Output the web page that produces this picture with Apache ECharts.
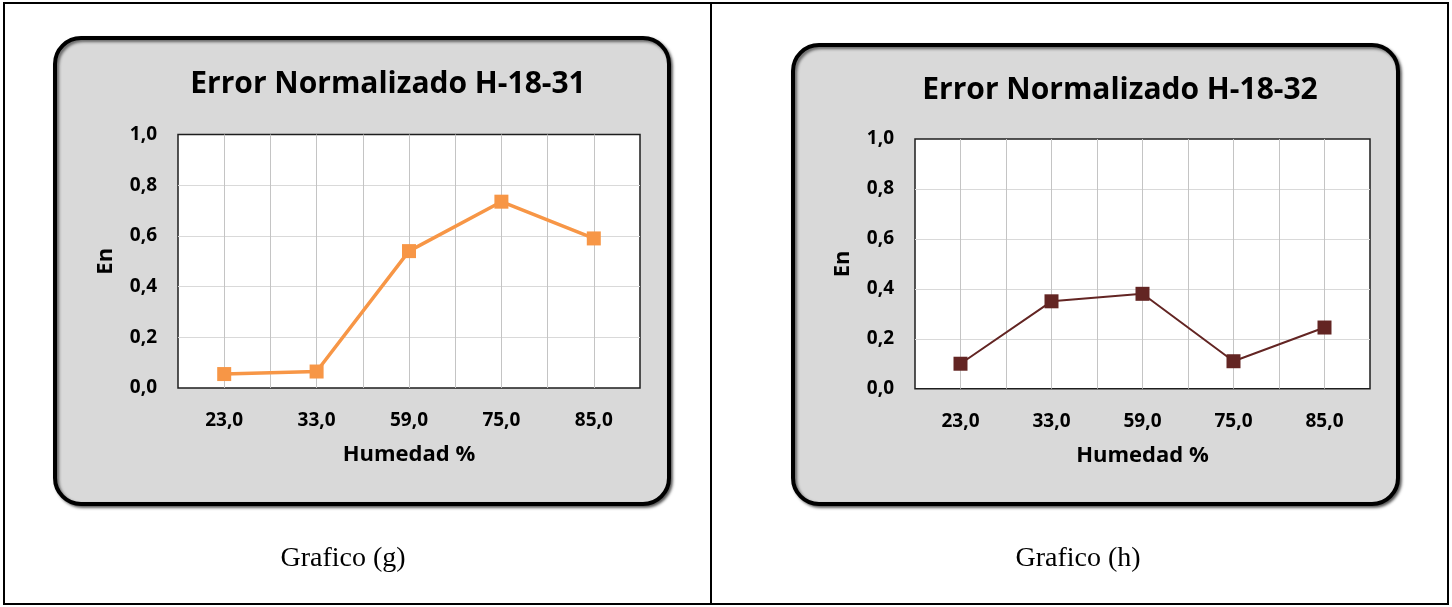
<!DOCTYPE html>
<html>
<head>
<meta charset="utf-8">
<script src="https://cdn.jsdelivr.net/npm/echarts@6/dist/echarts.min.js"></script>
<style>
  html, body { margin: 0; padding: 0; background: #ffffff; }
  #chart { width: 1452px; height: 607px; }
</style>
</head>
<body>
<div id="chart"></div>
<script>
// Humidity set points (category axis) and normalized error per instrument
const humidity = ['23,0', '33,0', '59,0', '75,0', '85,0'];
const enH1831 = [0.055, 0.065, 0.54, 0.735, 0.59];
const enH1832 = [0.10, 0.35, 0.38, 0.11, 0.245];
const yTickLabels = ['0,0', '0,2', '0,4', '0,6', '0,8', '1,0'];
const chartTitles = ['Error Normalizado H-18-31', 'Error Normalizado H-18-32'];
const captions = ['Grafico (g)', 'Grafico (h)'];
const xAxisName = 'Humedad %';
const yAxisName = 'En';

const SANS = '"Open Sans", "Noto Sans", sans-serif';
const SERIF = '"Liberation Serif", "DejaVu Serif", serif';

// Layout of the two side-by-side panels
const panels = [
  {
    values: enH1831, color: '#F79646', lineWidth: 3.5,
    card: { x: 55, y: 38, width: 614, height: 466 },
    grid: { left: 178, top: 134.5, width: 462, height: 253.5 },
    titlePos: [388, 84], captionPos: [343, 559]
  },
  {
    values: enH1832, color: '#632523', lineWidth: 2,
    card: { x: 793, y: 45, width: 605, height: 459 },
    grid: { left: 915, top: 139, width: 455, height: 249.7 },
    titlePos: [1120, 90], captionPos: [1078, 559]
  }
];

// Half-category slots: gridlines at every category centre and boundary
const halfSlots = Array.from({ length: humidity.length * 2 }, (_, i) => 'slot' + i);

const boldLabel = { fontFamily: SANS, fontWeight: 'bold', color: '#000000' };

const grids = [], xAxes = [], yAxes = [], series = [], graphics = [];

// Page frame: outer table border and the centre divider
graphics.push({
  type: 'rect', z: -20, silent: true,
  shape: { x: 4, y: 3, width: 1444, height: 601 },
  style: { fill: '#ffffff', stroke: '#000000', lineWidth: 2 }
});
graphics.push({
  type: 'line', z: -19, silent: true,
  shape: { x1: 711, y1: 3, x2: 711, y2: 604 },
  style: { stroke: '#000000', lineWidth: 2 }
});

panels.forEach((p, i) => {
  // Rounded grey chart card
  graphics.push({
    type: 'rect', z: -10, silent: true,
    shape: { x: p.card.x, y: p.card.y, width: p.card.width, height: p.card.height, r: 26 },
    style: {
      fill: '#d9d9d9', stroke: '#000000', lineWidth: 4,
      shadowBlur: 3, shadowOffsetX: 2, shadowOffsetY: 2, shadowColor: 'rgba(0,0,0,0.55)'
    }
  });
  // Chart title
  graphics.push({
    type: 'text', z: 5, silent: true,
    style: {
      x: p.titlePos[0], y: p.titlePos[1], text: chartTitles[i],
      font: 'bold 30px ' + SANS, fill: '#000000',
      align: 'center', verticalAlign: 'middle'
    }
  });
  // Caption below the card
  graphics.push({
    type: 'text', z: 5, silent: true,
    style: {
      x: p.captionPos[0], y: p.captionPos[1], text: captions[i],
      font: '28px ' + SERIF, fill: '#000000',
      align: 'center', verticalAlign: 'middle'
    }
  });

  grids.push({
    left: p.grid.left, top: p.grid.top, width: p.grid.width, height: p.grid.height,
    show: true, backgroundColor: '#ffffff', borderColor: '#1e1e1e', borderWidth: 1.5,
    containLabel: false
  });

  xAxes.push({
    gridIndex: i, type: 'category', data: humidity, boundaryGap: true,
    axisLine: { show: false }, axisTick: { show: false },
    axisLabel: Object.assign({ interval: 0, margin: 23, fontSize: 19 }, boldLabel),
    splitLine: { show: false },
    name: xAxisName, nameLocation: 'middle', nameGap: 56,
    nameTextStyle: Object.assign({ fontSize: 22 }, boldLabel)
  });
  xAxes.push({
    gridIndex: i, type: 'category', data: halfSlots, boundaryGap: true, position: 'bottom',
    axisLine: { show: false }, axisTick: { show: false }, axisLabel: { show: false },
    splitLine: {
      show: true, interval: 0, showMinLine: false, showMaxLine: false,
      lineStyle: { color: '#c4c4c4', width: 1 }
    }
  });

  yAxes.push({
    gridIndex: i, type: 'value', min: 0, max: 1, interval: 0.2,
    axisLine: { show: false }, axisTick: { show: false },
    axisLabel: Object.assign({
      margin: 21, fontSize: 19,
      formatter: v => yTickLabels[Math.round(v / 0.2)]
    }, boldLabel),
    splitLine: {
      show: true, showMinLine: false, showMaxLine: false,
      lineStyle: { color: '#d9d9d9', width: 1 }
    },
    name: yAxisName, nameLocation: 'middle', nameGap: 61, nameRotate: 90,
    nameTextStyle: Object.assign({ fontSize: 22 }, boldLabel)
  });

  series.push({
    type: 'line', xAxisIndex: i * 2, yAxisIndex: i, data: p.values,
    symbol: 'rect', symbolSize: 14, showSymbol: true,
    lineStyle: { color: p.color, width: p.lineWidth },
    itemStyle: { color: p.color },
    z: 5, animation: false
  });
});

const chart = echarts.init(document.getElementById('chart'), null, { renderer: 'canvas' });
chart.setOption({
  animation: false,
  backgroundColor: '#ffffff',
  grid: grids,
  xAxis: xAxes,
  yAxis: yAxes,
  series: series,
  graphic: { elements: graphics }
});
</script>
</body>
</html>
